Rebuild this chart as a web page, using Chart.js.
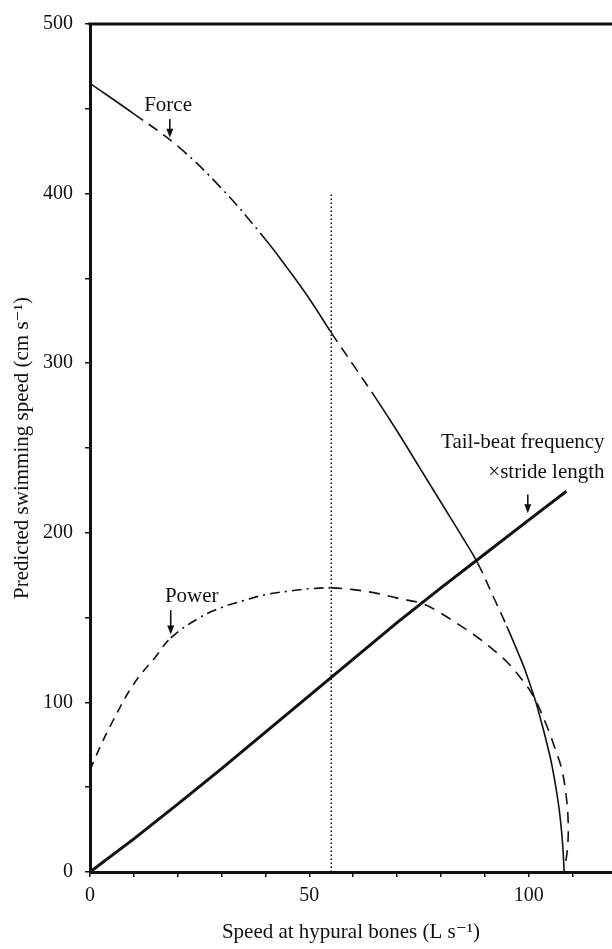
<!DOCTYPE html>
<html>
<head>
<meta charset="utf-8">
<script src="https://cdn.jsdelivr.net/npm/chart.js@4"></script>
<style>
  html, body { margin: 0; padding: 0; background: #fff; }
  canvas { display: block; }
</style>
</head>
<body>
<canvas id="chart" width="612" height="949"></canvas>
<script>
// predicted swimming speed (cm s-1) against speed at hypural bones (L s-1)
const forceX = [0, 10, 20, 30, 40, 45, 50, 55, 60, 65, 70, 75, 80, 85, 88.4, 92, 95, 98.6, 100, 102, 104.8, 106, 107, 107.7, 108, 108.1];
const forceY = [465, 447, 428, 403, 373, 356, 338, 318, 299, 280, 260, 239, 218, 197, 182, 162, 145, 123, 113, 97, 69, 53, 36, 18, 5, 0];

const powerX = [0, 2, 5, 10, 15, 18.4, 25, 30, 35, 40, 45, 50, 55, 60, 66, 70, 76, 80, 84, 88, 91, 95, 98, 101, 104, 106, 107.5, 108.5, 109, 108.9, 108.4];
const powerY = [60, 72, 88, 111, 127, 138, 150, 156, 160, 163.5, 165.5, 167, 167.5, 166.5, 164, 161.5, 158, 152.5, 146, 139, 133, 124, 115, 104, 87, 73, 61, 46, 30, 15, 5];

const tailX = [0, 10, 20, 30, 40, 50, 60, 70, 80, 90, 100, 108.6];
const tailY = [0, 19.5, 40, 61, 82.5, 104, 125.5, 147, 167.5, 187.5, 207.5, 224.5];

const markerX = [55, 55];
const markerY = [0, 400];

const xTickLabels = [0, 50, 100];
const yTickLabels = [0, 100, 200, 300, 400, 500];

// x ranges where the force curve is broken into dashes
const forceDashed = [[8, 18], [55, 63], [88.4, 95]];
const forceDashDot = [[18, 32]];

const ink = '#111';
const serif = '"Liberation Serif", "DejaVu Serif", serif';

const labelNotes = [
  { text: 'Force', x: 17.8, y: 452, align: 'center' },
  { text: 'Power', x: 23.2, y: 162.6, align: 'center' },
  { text: 'Tail-beat frequency', x: 117.3, y: 253, align: 'right' },
  { text: '\u00d7stride length', x: 117.3, y: 235.4, align: 'right' }
];
const arrowNotes = [
  { x: 18.2, from: 444, to: 433 },
  { x: 18.4, from: 154.4, to: 140 },
  { x: 99.8, from: 222.6, to: 211.5 }
];

const pts = (xs, ys) => xs.map((v, i) => ({ x: v, y: ys[i] }));
const inRanges = (v, ranges) => ranges.some(r => v >= r[0] && v < r[1]);

const annotate = {
  id: 'annotate',
  afterDatasetsDraw(chart) {
    const { ctx, chartArea, scales: { x, y } } = chart;
    ctx.save();
    // top frame line
    ctx.strokeStyle = ink;
    ctx.lineWidth = 3;
    ctx.beginPath();
    ctx.moveTo(chartArea.left - 1.5, chartArea.top);
    ctx.lineTo(chartArea.right, chartArea.top);
    ctx.stroke();

    ctx.fillStyle = ink;
    ctx.font = '21px ' + serif;
    ctx.textBaseline = 'middle';
    labelNotes.forEach(n => {
      ctx.textAlign = n.align;
      ctx.fillText(n.text, x.getPixelForValue(n.x), y.getPixelForValue(n.y));
    });

    ctx.lineWidth = 1.6;
    arrowNotes.forEach(a => {
      const px = x.getPixelForValue(a.x);
      const y0 = y.getPixelForValue(a.from);
      const y1 = y.getPixelForValue(a.to);
      ctx.beginPath();
      ctx.moveTo(px, y0);
      ctx.lineTo(px, y1 - 7);
      ctx.stroke();
      ctx.beginPath();
      ctx.moveTo(px - 3.5, y1 - 9);
      ctx.lineTo(px + 3.5, y1 - 9);
      ctx.lineTo(px, y1);
      ctx.closePath();
      ctx.fill();
    });
    ctx.restore();
  }
};

new Chart(document.getElementById('chart'), {
  type: 'scatter',
  data: {
    datasets: [
      {
        label: 'Force',
        data: pts(forceX, forceY),
        showLine: true,
        borderColor: ink,
        borderWidth: 1.6,
        pointRadius: 0,
        tension: 0.4,
        segment: {
          borderDash: c => {
            const v = c.p0.parsed.x;
            if (inRanges(v, forceDashed)) return [11, 7];
            if (inRanges(v, forceDashDot)) return [12, 5, 2, 5];
            return undefined;
          }
        }
      },
      {
        label: 'Power',
        data: pts(powerX, powerY),
        showLine: true,
        borderColor: ink,
        borderWidth: 1.6,
        pointRadius: 0,
        tension: 0.4,
        segment: {
          borderDash: c => {
            const v = c.p0.parsed.x;
            if (v < 18) return [9, 7];
            if (v < 55) return [10, 5, 2, 5];
            return [11, 8];
          }
        }
      },
      {
        label: 'Tail-beat frequency x stride length',
        data: pts(tailX, tailY),
        showLine: true,
        borderColor: ink,
        borderWidth: 3,
        pointRadius: 0,
        tension: 0
      },
      {
        label: 'marker',
        data: pts(markerX, markerY),
        showLine: true,
        borderColor: ink,
        borderWidth: 1.5,
        borderDash: [1.5, 2.5],
        pointRadius: 0
      }
    ]
  },
  options: {
    responsive: false,
    animation: false,
    devicePixelRatio: 1,
    layout: { padding: { top: 14, right: 0, bottom: 0, left: 0 } },
    plugins: { legend: { display: false }, tooltip: { enabled: false } },
    scales: {
      x: {
        type: 'linear',
        min: 0,
        max: 119,
        afterFit: s => { s.height = 77; },
        border: { display: true, color: ink, width: 3 },
        grid: { drawOnChartArea: false, drawTicks: true, tickLength: 5, color: ink, lineWidth: 1.5 },
        ticks: {
          stepSize: 10,
          includeBounds: false,
          autoSkip: false,
          maxRotation: 0,
          padding: 7,
          color: ink,
          font: { family: serif, size: 20 },
          callback: v => xTickLabels.includes(v) ? String(v) : ''
        },
        title: {
          display: true,
          text: 'Speed at hypural bones (L s\u207b\u00b9)',
          color: ink,
          font: { family: serif, size: 21 },
          padding: { top: 0, bottom: 4 }
        }
      },
      y: {
        type: 'linear',
        min: 0,
        max: 500,
        afterFit: s => { s.width = 90; },
        border: { display: true, color: ink, width: 3 },
        grid: { drawOnChartArea: false, drawTicks: true, tickLength: 5, color: ink, lineWidth: 1.5 },
        ticks: {
          stepSize: 50,
          autoSkip: false,
          padding: 12,
          color: ink,
          font: { family: serif, size: 20 },
          callback: v => yTickLabels.includes(v) ? String(v) : ''
        },
        title: {
          display: true,
          text: 'Predicted swimming speed (cm s\u207b\u00b9)',
          color: ink,
          font: { family: serif, size: 21 },
          padding: { top: 10, bottom: 0 }
        }
      }
    }
  },
  plugins: [annotate]
});
</script>
</body>
</html>
